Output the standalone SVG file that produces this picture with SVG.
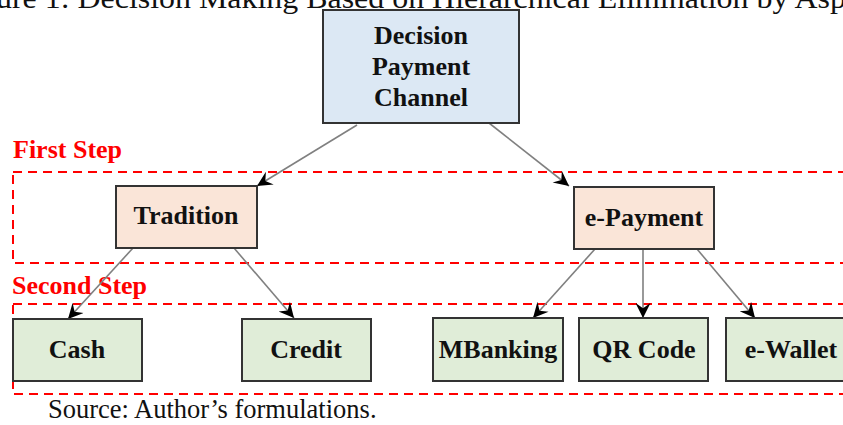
<svg xmlns="http://www.w3.org/2000/svg" width="843" height="425" viewBox="0 0 843 425">
<defs>
<style>
.node rect{stroke:#333;stroke-width:2}
.lbl{font-family:"Liberation Serif","Times New Roman",serif;font-weight:bold;font-size:26px;fill:#111;text-anchor:middle}
.step{font-family:"Liberation Serif","Times New Roman",serif;font-weight:bold;font-size:26px;fill:#ff0000}
.dash{fill:none;stroke:#ff0000;stroke-width:2;stroke-dasharray:9,6}
.conn line{stroke:#808080;stroke-width:1.6;marker-end:url(#arr)}
.plain{font-family:"Liberation Serif","Times New Roman",serif;font-size:26.5px;fill:#111}
</style>
<marker id="arr" viewBox="0 0 10 10" refX="10" refY="5" markerWidth="17" markerHeight="15" markerUnits="userSpaceOnUse" orient="auto">
<path d="M0,0 L10,5 L0,10 L3.5,5 z" fill="#000"/>
</marker>
</defs>
<rect width="843" height="425" fill="#fff"/>
<text class="plain" x="-4" y="8" textLength="850" lengthAdjust="spacingAndGlyphs" style="font-size:30px">ure 1: Decision Making Based on Hierarchical Elimination by Asp</text>

<g id="steps">
<rect class="dash" x="13" y="172" width="845" height="91"/>
<rect class="dash" x="13" y="304" width="845" height="90"/>
<text class="step" x="13" y="158">First Step</text>
<text class="step" x="12" y="294">Second Step</text>
</g>

<g id="connectors" class="conn">
<line x1="357" y1="125" x2="257" y2="186"/>
<line x1="489" y1="123" x2="569" y2="186"/>
<line x1="133" y1="248" x2="68" y2="319"/>
<line x1="234" y1="248" x2="294" y2="318"/>
<line x1="595" y1="249" x2="533" y2="318"/>
<line x1="643" y1="250" x2="643" y2="318"/>
<line x1="697" y1="249" x2="755" y2="318"/>
</g>

<g id="decision" class="node">
<rect x="323" y="10" width="196" height="113" fill="#dce8f4"/>
<text class="lbl" x="421" y="44">Decision</text>
<text class="lbl" x="421" y="75">Payment</text>
<text class="lbl" x="421" y="106">Channel</text>
</g>
<g id="tradition" class="node">
<rect x="116" y="186" width="141" height="62" fill="#fae5d8"/>
<text class="lbl" x="186" y="224">Tradition</text>
</g>
<g id="epayment" class="node">
<rect x="574" y="187" width="140" height="62" fill="#fae5d8"/>
<text class="lbl" x="644" y="226">e-Payment</text>
</g>
<g id="cash" class="node">
<rect x="13" y="319" width="129" height="62" fill="#e0edd8"/>
<text class="lbl" x="77" y="358">Cash</text>
</g>
<g id="credit" class="node">
<rect x="242" y="319" width="129" height="62" fill="#e0edd8"/>
<text class="lbl" x="306" y="358">Credit</text>
</g>
<g id="mbanking" class="node">
<rect x="433" y="318" width="130" height="63" fill="#e0edd8"/>
<text class="lbl" x="498" y="358">MBanking</text>
</g>
<g id="qrcode" class="node">
<rect x="579" y="318" width="129" height="63" fill="#e0edd8"/>
<text class="lbl" x="644" y="358">QR Code</text>
</g>
<g id="ewallet" class="node">
<rect x="726" y="318" width="130" height="63" fill="#e0edd8"/>
<text class="lbl" x="791" y="358">e-Wallet</text>
</g>

<text class="plain" x="48" y="418">Source: Author’s formulations.</text>
</svg>
